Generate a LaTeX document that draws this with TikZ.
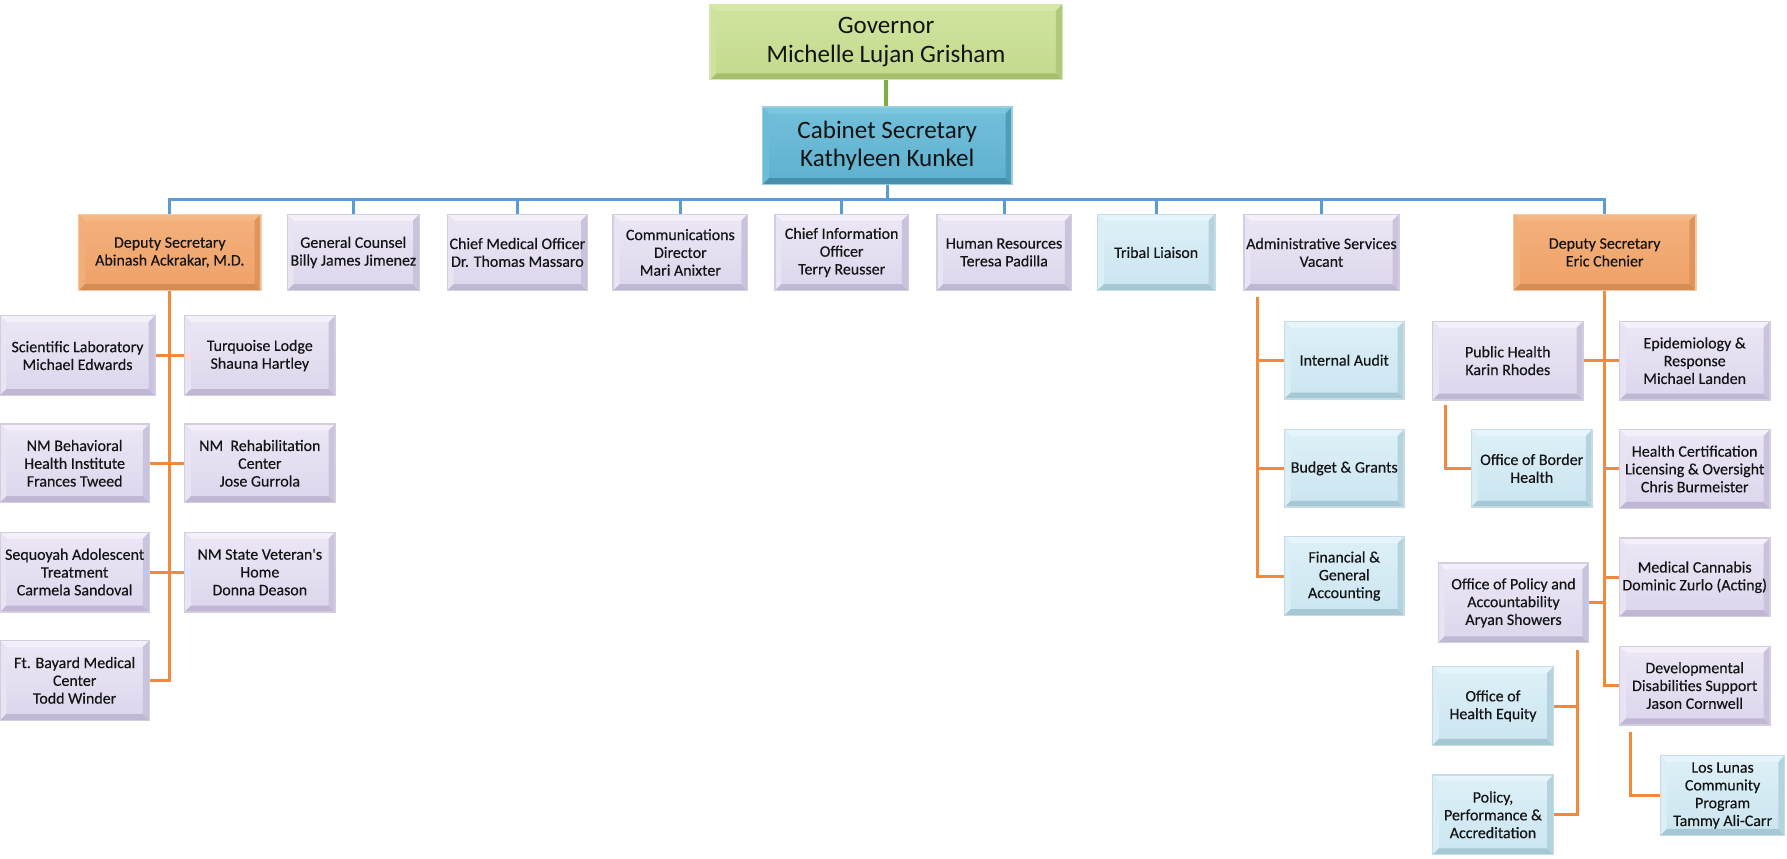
\documentclass[tikz,border=0pt]{standalone}
\usepackage{fontspec}
\setmainfont{Carlito}
\newfontfamily\lblfont{Carlito}[FakeBold=0.35]
\usetikzlibrary{calc}
\definecolor{lavF}{HTML}{DCD5EC}\definecolor{lavL}{HTML}{F3F0FA}\definecolor{lavD}{HTML}{C0B7D5}\definecolor{lavB}{HTML}{D3CEDF}
\definecolor{lbF}{HTML}{CAE5F0}\definecolor{lbL}{HTML}{E6F5FB}\definecolor{lbD}{HTML}{A6C7D4}\definecolor{lbB}{HTML}{C5DCE5}
\definecolor{orF}{HTML}{EFA168}\definecolor{orL}{HTML}{F5B885}\definecolor{orD}{HTML}{D48C55}\definecolor{orB}{HTML}{F6C9A5}
\definecolor{grF}{HTML}{C3DA8C}\definecolor{grL}{HTML}{D6E8A8}\definecolor{grD}{HTML}{A6BE6E}\definecolor{grB}{HTML}{D5E6B2}
\definecolor{blF}{HTML}{5EB0CE}\definecolor{blL}{HTML}{7CC6E0}\definecolor{blD}{HTML}{4690AE}\definecolor{blB}{HTML}{9ACFE2}
\definecolor{lnOr}{HTML}{F4883C}\definecolor{lnBl}{HTML}{5B9BD5}\definecolor{lnGr}{HTML}{78B140}
\def\bv{2.8pt}
\def\pbb{path picture bounding box}
\tikzset{
  bx/.style n args={4}{draw=#4, line width=0.6pt, top color=#2!70!#1, bottom color=#1,
    inner sep=1pt, align=center, text=black!92,
    font=\lblfont\fontsize{7}{7.8}\selectfont,
    path picture={
      \fill[#2] (\pbb.north west) -- (\pbb.north east) -- ([shift={(-\bv,-\bv)}]\pbb.north east) -- ([shift={(\bv,-\bv)}]\pbb.north west) -- cycle;
      \fill[#2!55!#1] (\pbb.north west) -- (\pbb.south west) -- ([shift={(\bv,\bv)}]\pbb.south west) -- ([shift={(\bv,-\bv)}]\pbb.north west) -- cycle;
      \fill[#3] (\pbb.south west) -- (\pbb.south east) -- ([shift={(-\bv,\bv)}]\pbb.south east) -- ([shift={(\bv,\bv)}]\pbb.south west) -- cycle;
      \fill[#3!60!#1] (\pbb.north east) -- (\pbb.south east) -- ([shift={(-\bv,\bv)}]\pbb.south east) -- ([shift={(-\bv,-\bv)}]\pbb.north east) -- cycle;
    }},
  lav/.style={bx={lavF}{lavL}{lavD}{lavB}},
  lblue/.style={bx={lbF}{lbL}{lbD}{lbB}},
  orng/.style={bx={orF}{orL}{orD}{orB}},
  grn/.style={bx={grF}{grL}{grD}{grB}, font=\fontsize{11}{12.5}\selectfont},
  blu/.style={bx={blF}{blL}{blD}{blB}, font=\fontsize{11}{12.3}\selectfont},
  orline/.style={draw=lnOr, line width=1.3pt},
  blline/.style={draw=lnBl, line width=1.3pt},
  grline/.style={draw=lnGr, line width=1.8pt},
}
\newcommand\orgbox[7]{%
  \pgfmathsetmacro\cx{(#3+#5)/2}\pgfmathsetmacro\cy{(#4+#6)/2}%
  \pgfmathsetmacro\ww{(#5-#3)*0.5}\pgfmathsetmacro\hh{(#6-#4)*0.5}%
  \node[#1, minimum width=\ww pt, minimum height=\hh pt] (#2) at (\cx,\cy) {#7};}
\begin{document}
\begin{tikzpicture}[x=0.5pt,y=-0.5pt]
\useasboundingbox[fill=white] (0,0) rectangle (1568,753);
% top
\orgbox{grn}{gov}{623}{4}{932}{70}{Governor\\Michelle Lujan Grisham}
\orgbox{blu}{cab}{669}{94}{888}{162}{Cabinet Secretary\\Kathyleen Kunkel}
% first row
\orgbox{orng}{dep1}{69}{188}{229}{255}{Deputy Secretary\\Abinash Ackrakar, M.D.}
\orgbox{lav}{gc}{252}{188}{368}{255}{General Counsel\\Billy James Jimenez}
\orgbox{lav}{cmo}{394}{188}{514}{255}{Chief Medical Officer\\Dr. Thomas Massaro}
\orgbox{lav}{comm}{538}{188}{656}{255}{Communications\\Director\\Mari Anixter}
\orgbox{lav}{cio}{680}{188}{797}{255}{Chief Information\\Officer\\Terry Reusser}
\orgbox{lav}{hr}{822}{188}{940}{255}{Human Resources\\Teresa Padilla}
\orgbox{lblue}{tribal}{963}{188}{1066}{255}{Tribal Liaison}
\orgbox{lav}{admin}{1092}{188}{1227}{255}{Administrative Services\\Vacant}
\orgbox{orng}{dep2}{1328}{188}{1488}{255}{Deputy Secretary\\Eric Chenier}
% left group
\orgbox{lav}{sci}{0}{277}{136}{347}{Scientific Laboratory\\Michael Edwards}
\orgbox{lav}{turq}{162}{277}{294}{347}{Turquoise Lodge\\Shauna Hartley}
\orgbox{lav}{nmbhi}{0}{372}{131}{441}{NM Behavioral\\Health Institute\\Frances Tweed}
\orgbox{lav}{rehab}{162}{372}{294}{441}{NM\ \ Rehabilitation\\Center\\Jose Gurrola}
\orgbox{lav}{seq}{0}{467}{131}{537}{Sequoyah Adolescent\\Treatment\\Carmela Sandoval}
\orgbox{lav}{vet}{162}{467}{294}{537}{NM State Veteran's\\Home\\Donna Deason}
\orgbox{lav}{ftb}{0}{562}{131}{632}{Ft. Bayard Medical\\Center\\Todd Winder}
% admin group
\orgbox{lblue}{audit}{1127}{282}{1232}{350}{Internal Audit}
\orgbox{lblue}{budget}{1127}{377}{1232}{445}{Budget \& Grants}
\orgbox{lblue}{fin}{1127}{471}{1232}{540}{Financial \&\\General\\Accounting}
% eric group
\orgbox{lav}{ph}{1257}{282}{1389}{351}{Public Health\\Karin Rhodes}
\orgbox{lav}{epi}{1421}{282}{1553}{351}{Epidemiology \&\\Response\\Michael Landen}
\orgbox{lblue}{obh}{1291}{377}{1397}{445}{Office of Border\\Health}
\orgbox{lav}{hc}{1421}{377}{1553}{446}{Health Certification\\Licensing \& Oversight\\Chris Burmeister}
\orgbox{lav}{mc}{1421}{472}{1553}{541}{Medical Cannabis\\Dominic Zurlo (Acting)}
\orgbox{lav}{opa}{1262}{494}{1394}{564}{Office of Policy and\\Accountability\\Aryan Showers}
\orgbox{lav}{dd}{1421}{567}{1553}{636}{Developmental\\Disabilities Support\\Jason Cornwell}
\orgbox{lblue}{ohe}{1257}{585}{1363}{654}{Office of\\Health Equity}
\orgbox{lblue}{ppa}{1257}{680}{1363}{750}{Policy,\\Performance \&\\Accreditation}
\orgbox{lblue}{ll}{1457}{663}{1566}{733}{Los Lunas\\Community\\Program\\Tammy Ali-Carr}
% connectors
\draw[grline] (gov.south) -- (gov.south |- cab.north);
\coordinate (busy) at (0,175);
\draw[blline] (cab.south) -- (cab.south |- busy);
\draw[blline] (dep1.north) -- (dep1.north |- busy) -- (dep2.north |- busy) -- (dep2.north);
\foreach \n in {gc,cmo,comm,cio,hr,tribal,admin}{\draw[blline] (\n.north) -- (\n.north |- busy);}
% left
\draw[orline] (dep1.south) -- (dep1.south |- ftb.east) -- (ftb.east);
\draw[orline] (sci.east) -- (turq.west);
\draw[orline] (nmbhi.east) -- (rehab.west);
\draw[orline] (seq.east) -- (vet.west);
% admin
\coordinate (a0) at (1103,261);
\draw[orline] (a0) |- (fin.west);
\draw[orline] (a0 |- audit.west) -- (audit.west);
\draw[orline] (a0 |- budget.west) -- (budget.west);
% eric
\draw[orline] (dep2.south) -- (dep2.south |- dd.west) -- (dd.west);
\draw[orline] (ph.east) -- (epi.west);
\draw[orline] (dep2.south |- hc.west) -- (hc.west);
\draw[orline] (dep2.south |- mc.west) -- (mc.west);
\draw[orline] (opa.east) -- (dep2.south |- opa.east);
\coordinate (p0) at (1268,355);
\draw[orline] (p0) |- (obh.west);
\coordinate (o0) at (1384,570);
\draw[orline] (o0) |- (ppa.east);
\draw[orline] (ohe.east) -- (o0 |- ohe.east);
\coordinate (d0) at (1431,642);
\draw[orline] (d0) |- (ll.west);
\end{tikzpicture}
\end{document}
